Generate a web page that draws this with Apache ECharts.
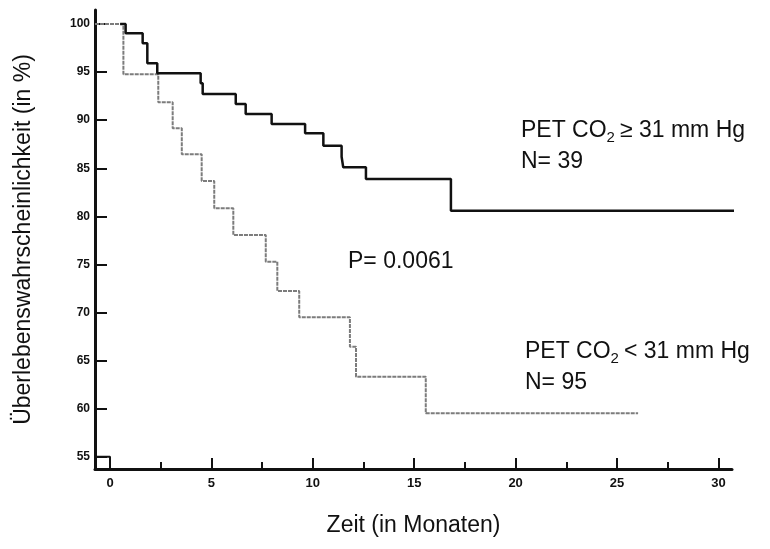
<!DOCTYPE html>
<html>
<head>
<meta charset="utf-8">
<script src="https://cdn.jsdelivr.net/npm/echarts@6/dist/echarts.min.js"></script>
<style>
html,body{margin:0;padding:0;background:#fff;}
#chart{width:770px;height:549px;}
</style>
</head>
<body>
<div id="chart"></div>
<script>
// Data (time in months, survival in %)
const highTimes = [0.5, 0.77, 1.61, 1.84, 2.33, 4.47, 4.57, 6.2, 6.69, 7.97, 9.62, 10.52, 11.42, 11.5, 12.62, 16.81, 30.92];
const highSurv  = [100, 99.03, 97.99, 95.91, 94.87, 93.83, 92.72, 91.68, 90.64, 89.6, 88.63, 87.34, 86.2, 85.1, 83.88, 80.58, 80.58];
const lowTimes  = [-0.74, 0.66, 2.38, 3.09, 3.54, 4.52, 5.14, 6.08, 7.68, 8.25, 9.33, 11.83, 12.13, 15.57, 26.04];
const lowSurv   = [100, 94.77, 91.86, 89.15, 86.45, 83.67, 80.83, 78.05, 75.28, 72.23, 69.5, 66.44, 63.32, 59.51, 59.51];
const breakTimes = [-0.74, 0, 0];
const breakVals  = [55, 55, 53.72];
const xMajorTicks = [0, 5, 10, 15, 20, 25, 30];
const xMinorTicks = [0, 2.5, 5, 7.5, 10, 12.5, 15, 17.5, 20, 22.5, 25, 27.5, 30];
const yTicks = [55, 60, 65, 70, 75, 80, 85, 90, 95, 100];
const labelHigh = ['PET CO', '2', '≥ 31 mm Hg', 'N= 39'];
const labelLow  = ['PET CO', '2', '< 31 mm Hg', 'N= 95'];
const pText = 'P= 0.0061';
const xName = 'Zeit (in Monaten)';
const yName = 'Überlebenswahrscheinlichkeit (in %)';

const FONT = "'Liberation Sans', Arial, sans-serif";
const zip = (a, b) => a.map((v, i) => [v, b[i]]);

const chart = echarts.init(document.getElementById('chart'), null, {renderer: 'canvas'});
const xMin = -0.74, xMax = 30.67, yMin = 53.72, yMax = 101.46;

const annStyle = (t) => ({
  text: '{a|' + t[0] + '}{s|' + t[1] + '}{a|' + t[2] + '}',
  rich: {
    a: {fontSize: 23, fontFamily: FONT, fill: '#111', color: '#111', padding: [0, 0, 3, 0]},
    s: {fontSize: 15, fontFamily: FONT, fill: '#111', color: '#111', verticalAlign: 'bottom', padding: [0, 5, 0, 0]}
  },
  verticalAlign: 'middle'
});

chart.setOption({
  animation: false,
  backgroundColor: '#fff',
  grid: {left: 95, right: 38, top: 10, bottom: 80, outerBoundsMode: 'none', containLabel: false},
  xAxis: [{
    type: 'value', min: xMin, max: xMax, position: 'bottom',
    name: xName, nameLocation: 'middle', nameGap: 45,
    nameTextStyle: {fontSize: 23, fontFamily: FONT, color: '#111'},
    axisLine: {show: true, onZero: false, lineStyle: {color: '#111', width: 3}},
    axisTick: {show: true, inside: true, length: 7, customValues: xMinorTicks, lineStyle: {color: '#111', width: 2}},
    axisLabel: {show: true, customValues: xMajorTicks, margin: 8, fontSize: 13, fontWeight: 'bold', fontFamily: FONT, color: '#111'},
    splitLine: {show: false}
  }, {
    type: 'value', min: xMin, max: xMax, position: 'bottom', offset: 0,
    axisLine: {show: false},
    axisTick: {show: true, inside: true, length: 11, customValues: xMajorTicks, lineStyle: {color: '#111', width: 2}},
    axisLabel: {show: false},
    splitLine: {show: false}
  }],
  yAxis: {
    type: 'value', min: yMin, max: yMax,
    name: yName, nameLocation: 'middle', nameGap: 60, nameRotate: 90,
    nameTextStyle: {fontSize: 23, fontFamily: FONT, color: '#111'},
    axisLine: {show: true, onZero: false, lineStyle: {color: '#111', width: 3}},
    axisTick: {show: true, inside: true, length: 12, customValues: yTicks, lineStyle: {color: '#111', width: 2}},
    axisLabel: {show: true, customValues: yTicks, margin: 5, fontSize: 12, fontWeight: 'bold', fontFamily: FONT, color: '#111'},
    splitLine: {show: false}
  },
  series: [{
    type: 'line', step: 'end', data: zip(lowTimes, lowSurv), symbol: 'none', clip: false,
    lineStyle: {color: '#7c7c7c', width: 2, type: [4, 1]}, z: 2
  }, {
    type: 'line', step: 'end', data: zip(highTimes, highSurv), symbol: 'none', clip: false,
    lineStyle: {color: '#111', width: 2.5}, z: 3
  }, {
    type: 'line', data: zip(breakTimes, breakVals), symbol: 'none', clip: false,
    lineStyle: {color: '#111', width: 2}, z: 3
  }],
  graphic: [
    {type: 'text', left: 521, top: 119, style: annStyle(labelHigh)},
    {type: 'text', left: 521, top: 150, style: {text: labelHigh[3], fontSize: 23, fontFamily: FONT, fill: '#111'}},
    {type: 'text', left: 348, top: 250, style: {text: pText, fontSize: 23, fontFamily: FONT, fill: '#111'}},
    {type: 'text', left: 525, top: 340, style: annStyle(labelLow)},
    {type: 'text', left: 525, top: 371, style: {text: labelLow[3], fontSize: 23, fontFamily: FONT, fill: '#111'}}
  ]
});
</script>
</body>
</html>
